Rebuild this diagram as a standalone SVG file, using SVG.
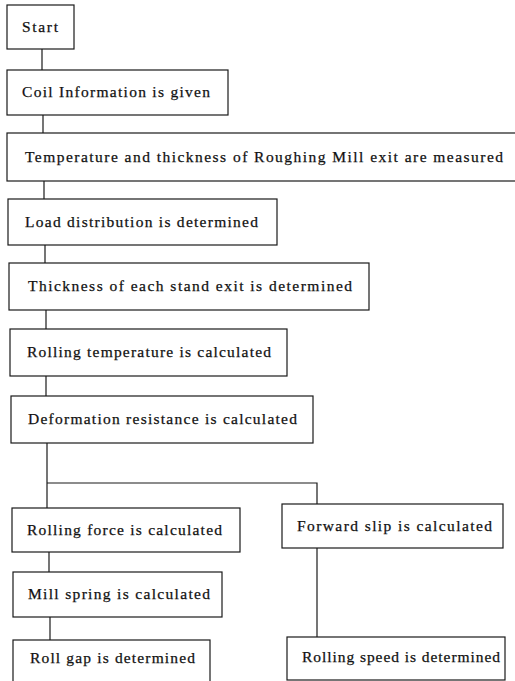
<svg xmlns="http://www.w3.org/2000/svg" width="515" height="681" viewBox="0 0 515 681">
<style>
.box{fill:#fff;stroke:#1a1a1a;stroke-width:1.2}
.lbl{font-family:"Liberation Serif","Times New Roman",serif;font-size:15.5px;fill:#111;stroke:#111;stroke-width:0.25}
.con{fill:none;stroke:#1a1a1a;stroke-width:1.2}
</style>
<rect width="515" height="681" fill="#fff"/>
<g id="connectors" class="con">
<line x1="42" y1="49" x2="42" y2="70"/>
<line x1="43" y1="115" x2="43" y2="133"/>
<line x1="44" y1="181" x2="44" y2="199"/>
<line x1="45" y1="245" x2="45" y2="263"/>
<line x1="46" y1="310" x2="46" y2="329"/>
<line x1="46" y1="376" x2="46" y2="396"/>
<polyline points="47,443 47,508"/>
<polyline points="47,483 317,483 317,504"/>
<line x1="49" y1="552" x2="49" y2="572"/>
<line x1="50" y1="617" x2="50" y2="640"/>
<line x1="317" y1="548" x2="317" y2="637"/>
</g>
<g id="start"><rect class="box" x="7" y="5" width="67" height="44"/><text class="lbl" x="22" y="32" textLength="36" lengthAdjust="spacing">Start</text></g>
<g id="coil"><rect class="box" x="7" y="70" width="221" height="45"/><text class="lbl" x="22" y="97" textLength="188" lengthAdjust="spacing">Coil Information is given</text></g>
<g id="temperature"><rect class="box" x="7" y="133" width="520" height="48"/><text class="lbl" x="25" y="162" textLength="478" lengthAdjust="spacing">Temperature and thickness of Roughing Mill exit are measured</text></g>
<g id="load"><rect class="box" x="8" y="199" width="269" height="46"/><text class="lbl" x="25" y="227" textLength="233" lengthAdjust="spacing">Load distribution is determined</text></g>
<g id="thickness"><rect class="box" x="9" y="263" width="360" height="47"/><text class="lbl" x="28" y="291" textLength="324" lengthAdjust="spacing">Thickness of each stand exit is determined</text></g>
<g id="rolling-temperature"><rect class="box" x="10" y="329" width="277" height="47"/><text class="lbl" x="27" y="357" textLength="244" lengthAdjust="spacing">Rolling temperature is calculated</text></g>
<g id="deformation"><rect class="box" x="11" y="396" width="302" height="47"/><text class="lbl" x="28" y="424" textLength="269" lengthAdjust="spacing">Deformation resistance is calculated</text></g>
<g id="rolling-force"><rect class="box" x="12" y="508" width="228" height="44"/><text class="lbl" x="27" y="535" textLength="195" lengthAdjust="spacing">Rolling force is calculated</text></g>
<g id="forward-slip"><rect class="box" x="282" y="504" width="221" height="44"/><text class="lbl" x="297" y="531" textLength="195" lengthAdjust="spacing">Forward slip is calculated</text></g>
<g id="mill-spring"><rect class="box" x="13" y="572" width="209" height="45"/><text class="lbl" x="28" y="599" textLength="182" lengthAdjust="spacing">Mill spring is calculated</text></g>
<g id="roll-gap"><rect class="box" x="13" y="640" width="197" height="50"/><text class="lbl" x="30" y="663" textLength="165" lengthAdjust="spacing">Roll gap is determined</text></g>
<g id="rolling-speed"><rect class="box" x="287" y="637" width="218" height="43"/><text class="lbl" x="302" y="662" textLength="198" lengthAdjust="spacing">Rolling speed is determined</text></g>
</svg>
